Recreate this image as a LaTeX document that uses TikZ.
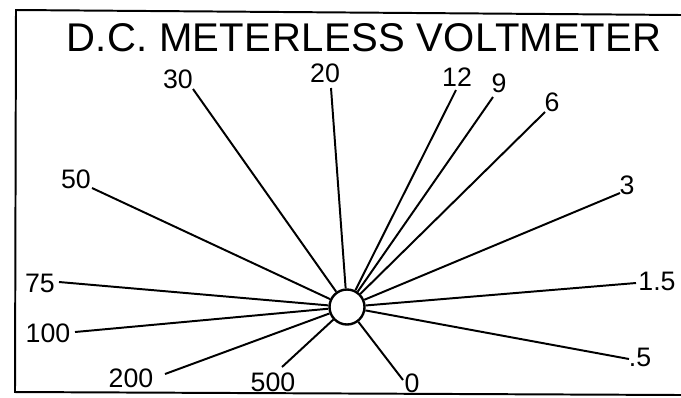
\documentclass[tikz,border=0pt]{standalone}
\usepackage{fontspec}
\setmainfont{Liberation Sans}
\newfontfamily\lettering[LetterSpace=1]{Liberation Sans}
\usetikzlibrary{positioning}

\begin{document}
\begin{tikzpicture}[
  x=0.025cm, y=-0.025cm,
  frame line/.style={line width=1.4pt, draw=black},
  spoke/.style={line width=1.4pt, draw=black},
  hub node/.style={circle, draw=black, line width=1.7pt, fill=white, minimum size=0.875cm, inner sep=0pt},
  num label/.style={font=\fontsize{19}{19}\selectfont, inner sep=0pt},
  title node/.style={font=\lettering\fontsize{28.5}{28.5}\selectfont, inner sep=0pt},
]
\useasboundingbox (0,0) rectangle (681,397);

% frame, open on the right
\draw[frame line] (681,15) -- (16,10) -- (15,392) -- (681,395);

\node[title node] (title) at (364,38) {D.C. METERLESS VOLTMETER};

% the switch in the middle
\node[hub node] (hub) at (347,307) {};

% ranges: key / text / label position / end of spoke
\foreach \key/\txt/\lx/\ly/\ex/\ey in {
    a/30/178/79/193/89,
    b/20/325/73/331/88,
    c/12/457/77/456/90,
    d/9/499/83/493/97,
    e/6/552/102/545/112,
    f/3/627/185/620/193,
    g/1.5/657/281/636/283,
    h/.5/640/357/629/359,
    i/0/412/383/403/380,
    j/500/273/382/282/367,
    k/200/131/378/165/374,
    l/100/48/333/75/332,
    m/75/40/283/59/282,
    n/50/76/179/92/188} {
  \node[num label] (l\key) at (\lx,\ly) {\txt};
  \coordinate (e\key) at (\ex,\ey);
  \draw[spoke] (hub) -- (e\key);
}

\end{tikzpicture}
\end{document}
